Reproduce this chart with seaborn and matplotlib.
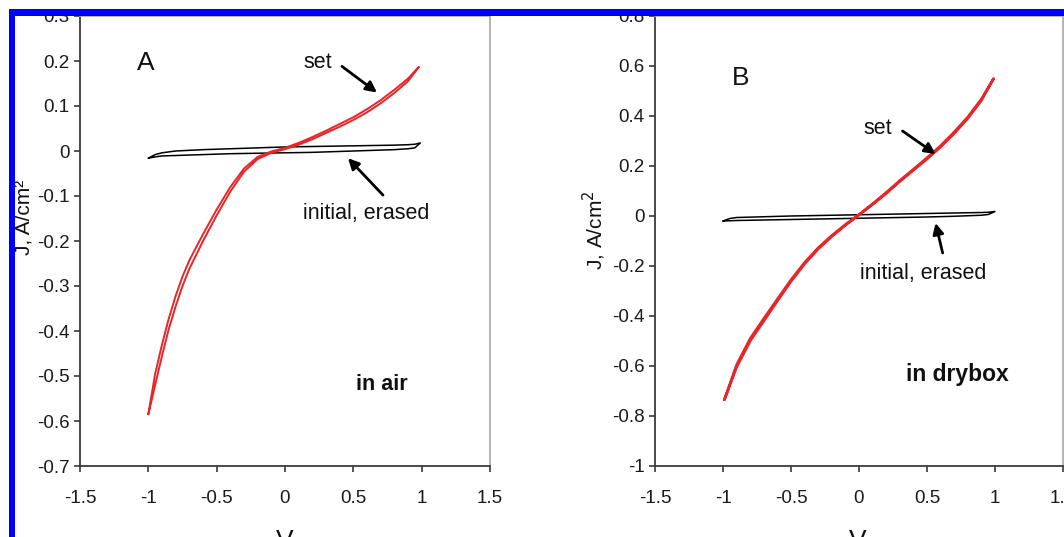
import numpy as np
import pandas as pd
import matplotlib
matplotlib.use("Agg")
import matplotlib.pyplot as plt
from matplotlib.patches import Rectangle
from matplotlib.ticker import FuncFormatter, MultipleLocator
import seaborn as sns

# ---------------- data ----------------
# Panel A (in air) - "set" loop (two branches)
V_A_set = [-1.0, -0.95, -0.9, -0.85, -0.8, -0.75, -0.7, -0.6, -0.5, -0.4, -0.3, -0.2,
           -0.1, 0.0, 0.1, 0.2, 0.3, 0.4, 0.5, 0.6, 0.7, 0.8, 0.9, 0.98]
J_A_set_fwd = [-0.585, -0.52, -0.455, -0.395, -0.345, -0.300, -0.262, -0.200, -0.143, -0.090,
               -0.046, -0.018, -0.004, 0.004, 0.014, 0.026, 0.040, 0.054, 0.069, 0.086,
               0.106, 0.129, 0.155, 0.187]
J_A_set_rev = [-0.585, -0.495, -0.430, -0.372, -0.322, -0.279, -0.243, -0.185, -0.130, -0.080,
               -0.039, -0.013, -0.001, 0.007, 0.018, 0.031, 0.045, 0.060, 0.075, 0.093,
               0.113, 0.136, 0.161, 0.187]
# Panel A - "initial, erased" loop
V_A_init = [-1.0, -0.95, -0.9, -0.8, -0.6, -0.4, -0.2, 0.0, 0.2, 0.4, 0.6, 0.8, 0.9, 0.95, 0.99]
J_A_init_fwd = [-0.016, -0.008, -0.004, 0.000, 0.003, 0.005, 0.007, 0.009, 0.010, 0.011,
                0.012, 0.013, 0.014, 0.015, 0.018]
J_A_init_rev = [-0.016, -0.013, -0.011, -0.010, -0.008, -0.006, -0.005, -0.004, -0.003, -0.001,
                0.001, 0.003, 0.005, 0.007, 0.018]

# Panel B (in drybox) - "set" loop
V_B_set = [-0.99, -0.9, -0.8, -0.7, -0.6, -0.5, -0.4, -0.3, -0.2, -0.1, 0.0, 0.1, 0.2, 0.3,
           0.4, 0.5, 0.6, 0.7, 0.8, 0.9, 0.99]
J_B_set_fwd = [-0.735, -0.605, -0.500, -0.420, -0.340, -0.262, -0.192, -0.132, -0.082, -0.037,
               0.004, 0.046, 0.090, 0.138, 0.183, 0.228, 0.276, 0.330, 0.390, 0.462, 0.550]
J_B_set_rev = [-0.735, -0.595, -0.490, -0.410, -0.332, -0.255, -0.186, -0.127, -0.078, -0.034,
               0.006, 0.049, 0.094, 0.142, 0.187, 0.233, 0.281, 0.336, 0.396, 0.468, 0.550]
# Panel B - "initial, erased" loop
V_B_init = [-1.0, -0.95, -0.9, -0.7, -0.5, -0.3, -0.1, 0.1, 0.3, 0.5, 0.7, 0.9, 0.95, 1.0]
J_B_init_fwd = [-0.020, -0.010, -0.006, -0.003, 0.000, 0.002, 0.004, 0.006, 0.008, 0.010,
                0.012, 0.014, 0.015, 0.018]
J_B_init_rev = [-0.020, -0.019, -0.018, -0.016, -0.014, -0.012, -0.010, -0.008, -0.006, -0.004,
                -0.001, 0.003, 0.006, 0.018]

x_ticks = [-1.5, -1.0, -0.5, 0.0, 0.5, 1.0, 1.5]
A_ylim = (-0.7, 0.3)
B_ylim = (-1.0, 0.8)


def loop_frame(v, jf, jr):
    vv = list(v) + list(v)[::-1]
    jj = list(jf) + list(jr)[::-1]
    return pd.DataFrame({"V": vv, "J": jj, "order": range(len(vv))})


# ---------------- style ----------------
sns.set_theme(style="white")
plt.rcParams["font.family"] = ["Liberation Sans", "DejaVu Sans"]
plt.rcParams["axes.unicode_minus"] = False

W, H = 1064, 537
fig = plt.figure(figsize=(W / 100, H / 100), dpi=100)
fig.patch.set_facecolor("white")


def fx(px):
    return px / W


def fy(py):
    return 1 - py / H


fmt = FuncFormatter(lambda v, p: ("%g" % round(v, 3)) if abs(v) > 1e-9 else "0")

axA = fig.add_axes([fx(80), fy(466), fx(490) - fx(80), fy(16) - fy(466)])
axB = fig.add_axes([fx(655), fy(466), fx(1063) - fx(655), fy(16) - fy(466)])

panels = [
    (axA, loop_frame(V_A_set, J_A_set_fwd, J_A_set_rev),
     loop_frame(V_A_init, J_A_init_fwd, J_A_init_rev), A_ylim, 0.1),
    (axB, loop_frame(V_B_set, J_B_set_fwd, J_B_set_rev),
     loop_frame(V_B_init, J_B_init_fwd, J_B_init_rev), B_ylim, 0.2),
]

for ax, dset, dinit, ylim, ystep in panels:
    sns.lineplot(data=dinit, x="V", y="J", sort=False, estimator=None, ax=ax,
                 color="black", lw=1.1)
    sns.lineplot(data=dset, x="V", y="J", sort=False, estimator=None, ax=ax,
                 color="#e8262a", lw=1.4 if ax is axA else 1.9)
    ax.set_xlim(-1.5, 1.5)
    ax.set_ylim(*ylim)
    ax.set_xticks(x_ticks)
    ax.yaxis.set_major_locator(MultipleLocator(ystep))
    ax.xaxis.set_major_formatter(fmt)
    ax.yaxis.set_major_formatter(fmt)
    ax.set_xlabel("")
    ax.set_ylabel("")
    for s in ["left", "bottom"]:
        ax.spines[s].set_color("#3a3a3a")
        ax.spines[s].set_linewidth(1.3)
    for s in ["top", "right"]:
        ax.spines[s].set_color("#a8a8a8")
        ax.spines[s].set_linewidth(1.2)
    ax.tick_params(axis="both", which="major", direction="out", length=4.5, width=1.2,
                   color="#3a3a3a", labelsize=13.5, labelcolor="#1a1a1a",
                   left=True, bottom=True)
    ax.tick_params(axis="x", pad=13)
    ax.tick_params(axis="y", pad=3)
    ax.set_facecolor("white")

arrow = dict(arrowstyle="-|>", color="black", lw=2.0, mutation_scale=16, shrinkA=0, shrinkB=0)

# Panel A annotations
axA.text(-1.02, 0.195, "A", fontsize=19, ha="center", va="center", color="#111")
axA.text(0.24, 0.197, "set", fontsize=15.5, ha="center", va="center", color="#111")
axA.annotate("", xy=(0.673, 0.130), xytext=(0.417, 0.188), arrowprops=arrow)
axA.text(0.593, -0.138, "initial, erased", fontsize=15.5, ha="center", va="center", color="#111")
axA.annotate("", xy=(0.461, -0.016), xytext=(0.717, -0.098), arrowprops=arrow)
axA.text(0.71, -0.52, "in air", fontsize=15.5, fontweight="bold", ha="center", va="center",
         color="#111")

# Panel B annotations
axB.text(-0.87, 0.552, "B", fontsize=19, ha="center", va="center", color="#111")
axB.text(0.137, 0.352, "set", fontsize=15.5, ha="center", va="center", color="#111")
axB.annotate("", xy=(0.563, 0.248), xytext=(0.32, 0.34), arrowprops=arrow)
axB.text(0.475, -0.228, "initial, erased", fontsize=15.5, ha="center", va="center", color="#111")
axB.annotate("", xy=(0.563, -0.028), xytext=(0.615, -0.148), arrowprops=arrow)
axB.text(0.724, -0.636, "in drybox", fontsize=16.5, fontweight="bold", ha="center",
         va="center", color="#111")

# axis labels
fig.text(fx(24), fy(217), "J, A/cm²", rotation=90, ha="center", va="center",
         fontsize=15, color="#111")
fig.text(fx(594), fy(230), "J, A/cm$^2$", rotation=90, ha="center", va="center",
         fontsize=15, color="#111")
fig.text(fx(285), fy(541), "V", ha="center", va="center", fontsize=19, color="#111")
fig.text(fx(858), fy(541), "V", ha="center", va="center", fontsize=19, color="#111")

# blue frame of the screenshot crop
fig.patches.append(Rectangle((0, fy(9)), 1, 1 - fy(9), transform=fig.transFigure,
                             facecolor="white", edgecolor="none", zorder=20))
fig.patches.append(Rectangle((0, 0), fx(9), 1, transform=fig.transFigure,
                             facecolor="white", edgecolor="none", zorder=20))
fig.patches.append(Rectangle((fx(9), fy(16)), 1 - fx(9), fy(9) - fy(16),
                             transform=fig.transFigure, facecolor="#0000ff",
                             edgecolor="none", zorder=21))
fig.patches.append(Rectangle((fx(9), 0), fx(15) - fx(9), fy(9), transform=fig.transFigure,
                             facecolor="#0000ff", edgecolor="none", zorder=21))

fig.savefig("out.png", dpi=100, facecolor="white")
